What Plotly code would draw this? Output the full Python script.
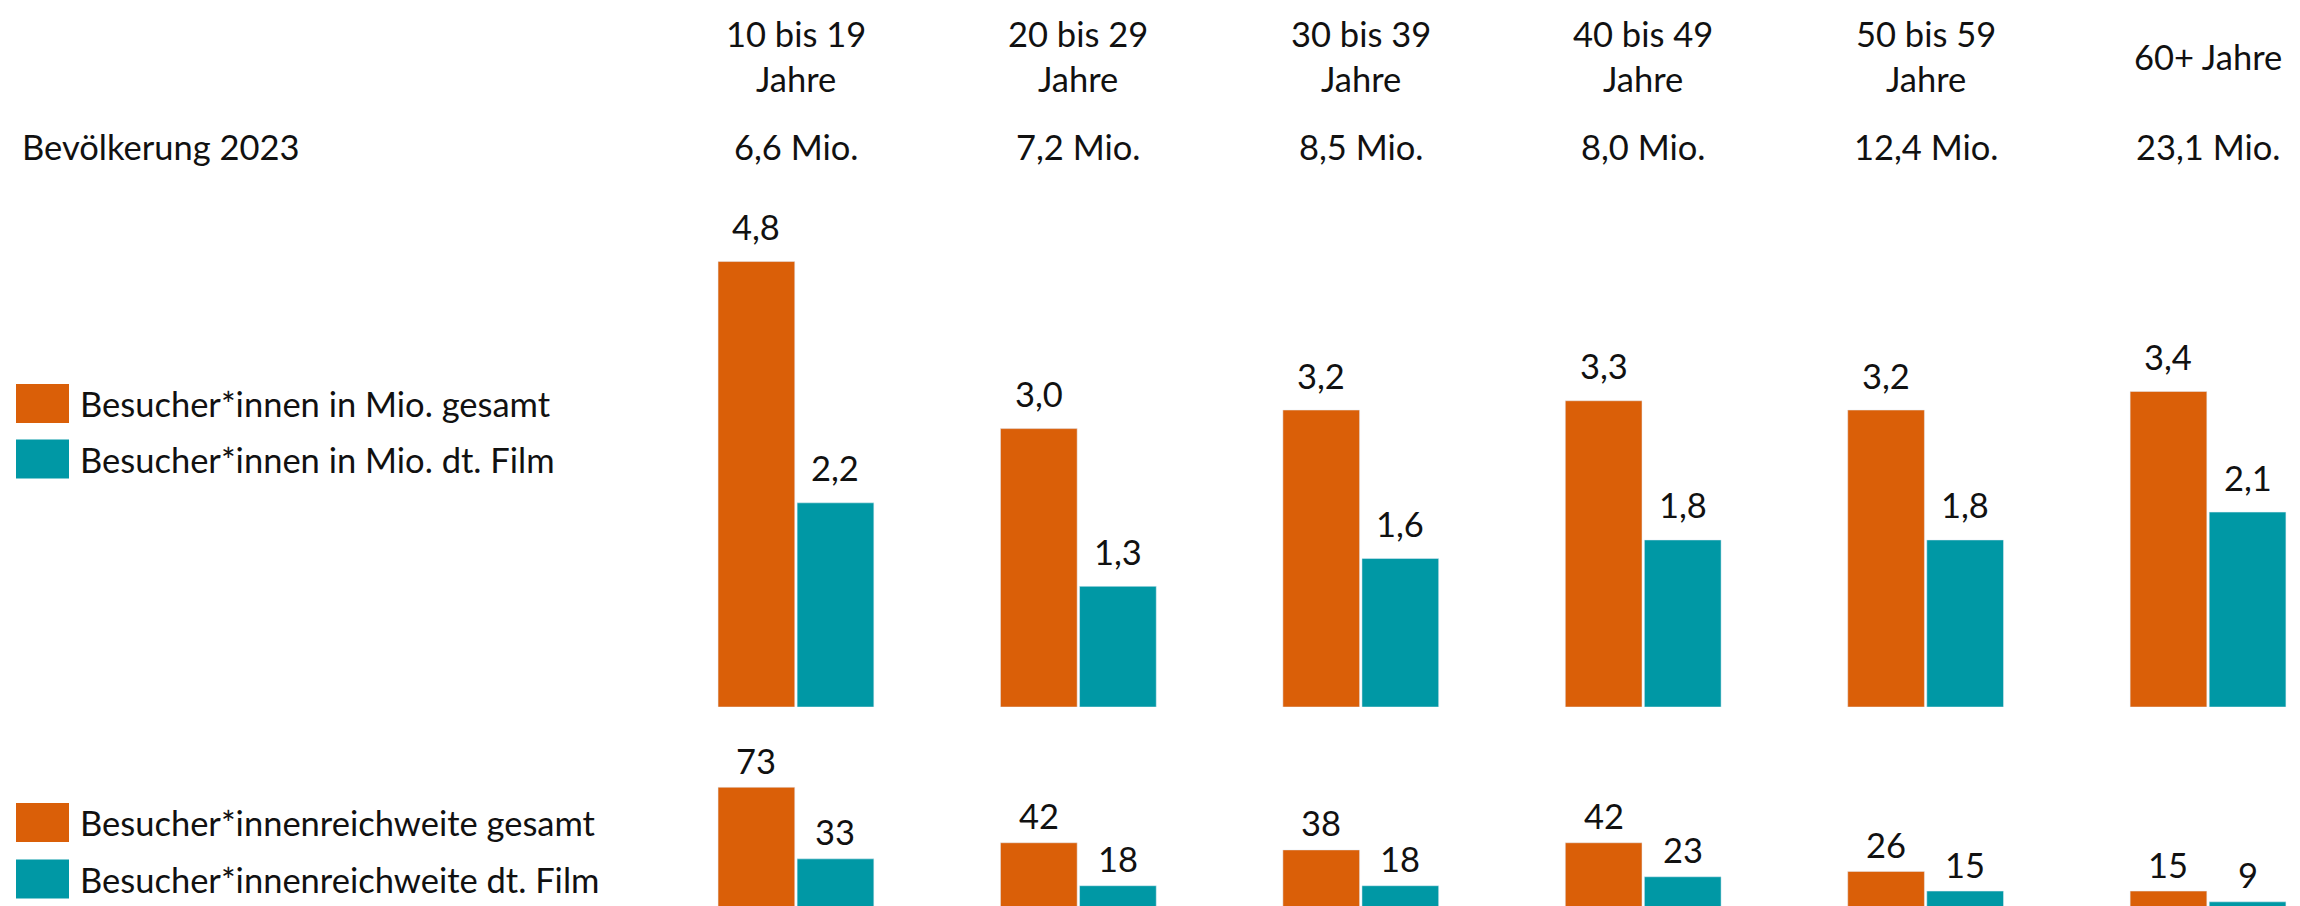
import plotly.graph_objects as go

# ---- data ----
age_groups = ["10 bis 19", "20 bis 29", "30 bis 39", "40 bis 49", "50 bis 59", "60+"]
header_labels = ["10 bis 19<br>Jahre", "20 bis 29<br>Jahre", "30 bis 39<br>Jahre",
                 "40 bis 49<br>Jahre", "50 bis 59<br>Jahre", "60+ Jahre"]
population_mio = [6.6, 7.2, 8.5, 8.0, 12.4, 23.1]
visitors_total_mio = [4.8, 3.0, 3.2, 3.3, 3.2, 3.4]
visitors_german_mio = [2.2, 1.3, 1.6, 1.8, 1.8, 2.1]
reach_total = [73, 42, 38, 42, 26, 15]
reach_german = [33, 18, 18, 23, 15, 9]

legend_top = ["Besucher*innen in Mio. gesamt", "Besucher*innen in Mio. dt. Film"]
legend_bottom = ["Besucher*innenreichweite gesamt", "Besucher*innenreichweite dt. Film"]
row_label = "Bevölkerung 2023"

ORANGE = "#DA5F08"
TEAL = "#0098A5"
FONT = "Lato"
FS = 34.5
W, H = 2300, 906
BARGAP = 0.44

fig = go.Figure()
tf = dict(family=FONT, size=FS, color="#111111")

fig.add_trace(go.Bar(x=age_groups, y=visitors_total_mio, marker_color=ORANGE,
                     xaxis="x", yaxis="y", showlegend=False, offsetgroup="a"))
fig.add_trace(go.Bar(x=age_groups, y=visitors_german_mio, marker_color=TEAL,
                     xaxis="x", yaxis="y", showlegend=False, offsetgroup="b"))
fig.add_trace(go.Bar(x=age_groups, y=reach_total, marker_color=ORANGE,
                     xaxis="x2", yaxis="y2", showlegend=False, offsetgroup="a"))
fig.add_trace(go.Bar(x=age_groups, y=reach_german, marker_color=TEAL,
                     xaxis="x2", yaxis="y2", showlegend=False, offsetgroup="b"))


def py(pix):
    return 1 - pix / H


annotations = []
off = (1 - BARGAP) / 4
# value labels above the bars
for i in range(len(age_groups)):
    for val, dx in ((visitors_total_mio[i], -off), (visitors_german_mio[i], off)):
        annotations.append(dict(x=i + dx, xref="x", y=val, yref="y",
                                text=f"{val:.1f}".replace(".", ","),
                                showarrow=False, font=tf, xanchor="center",
                                yanchor="middle", yshift=35))
    for val, dx in ((reach_total[i], -off), (reach_german[i], off)):
        annotations.append(dict(x=i + dx, xref="x2", y=val, yref="y2",
                                text=f"{val:d}", showarrow=False, font=tf,
                                xanchor="center", yanchor="middle", yshift=27))

for cat, hdr, pop in zip(age_groups, header_labels, population_mio):
    annotations.append(dict(x=cat, xref="x", y=py(48), yref="paper", text=hdr,
                            showarrow=False, font=tf, xanchor="center", yanchor="middle"))
    annotations.append(dict(x=cat, xref="x", y=py(138), yref="paper",
                            text=f"{pop:.1f}".replace(".", ",") + " Mio.",
                            showarrow=False, font=tf, xanchor="center", yanchor="middle"))
annotations.append(dict(x=12 / W, xref="paper", y=py(138), yref="paper", text=row_label,
                        showarrow=False, font=tf, xanchor="left", yanchor="middle"))

shapes = []
legend_items = [(legend_top[0], ORANGE, 395.5), (legend_top[1], TEAL, 451),
                (legend_bottom[0], ORANGE, 814.5), (legend_bottom[1], TEAL, 871)]
for txt, col, yc in legend_items:
    shapes.append(dict(type="rect", xref="paper", yref="paper",
                       x0=8 / W, x1=61 / W, y0=py(yc + 19.5), y1=py(yc - 19.5),
                       fillcolor=col, line=dict(width=0)))
    annotations.append(dict(x=70 / W, xref="paper", y=py(yc), yref="paper", text=txt,
                            showarrow=False, font=tf, xanchor="left", yanchor="middle"))

xr = [-2.790, 5.354]
fig.update_layout(
    width=W, height=H,
    margin=dict(l=0, r=0, t=0, b=0),
    paper_bgcolor="white", plot_bgcolor="white",
    barmode="group", bargap=BARGAP, bargroupgap=0.03,
    font=tf,
    xaxis=dict(domain=[0, 1], range=xr, visible=False, anchor="y"),
    xaxis2=dict(domain=[0, 1], range=xr, visible=False, anchor="y2", matches="x"),
    yaxis=dict(domain=[py(699), py(160)], range=[0, (699 - 160) / 92.8], visible=False, anchor="x"),
    yaxis2=dict(domain=[0, py(734)], range=[2.2, 2.2 + (906 - 734) / 1.79], visible=False, anchor="x2"),
    annotations=annotations,
    shapes=shapes,
)

fig.write_html("out.html")
